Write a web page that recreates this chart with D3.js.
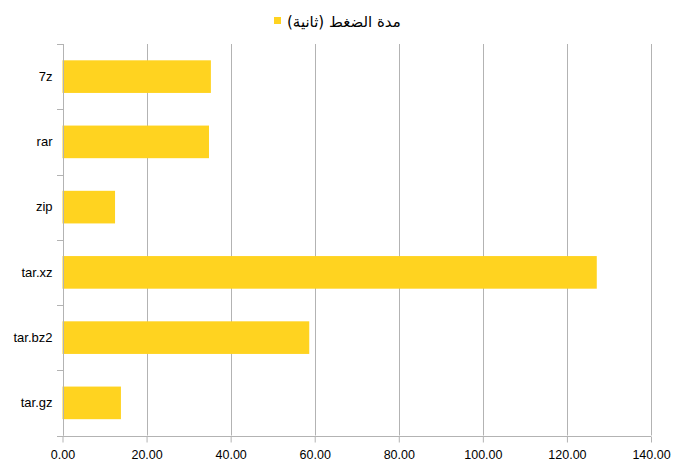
<!DOCTYPE html>
<html><head><meta charset="utf-8">
<script src="https://cdn.jsdelivr.net/npm/d3@7"></script>
<style>body{margin:0;background:#fff}svg{display:block}</style>
</head><body>
<svg id="c" width="685" height="469"></svg>
<script>
const categories = ["7z", "rar", "zip", "tar.xz", "tar.bz2", "tar.gz"];
const values = [35.3, 34.85, 12.5, 127.1, 58.7, 13.9];
const seriesName = "مدة الضغط (ثانية)";
const xTicks = [0, 20, 40, 60, 80, 100, 120, 140];

const svg = d3.select("#c");
const m = {left: 62.5, right: 651, top: 44, bottom: 435.5};
const x = d3.scaleLinear().domain([0, 140]).range([m.left, m.right]);
const y = d3.scaleBand().domain(categories).range([m.top, m.bottom]).paddingInner(0.5).paddingOuter(0.25);
const yb = d3.scaleBand().domain(categories).range([m.top, m.bottom]);
const grid = "#b3b3b3";

// gridlines
svg.append("g").selectAll("line").data(xTicks).join("line")
  .attr("x1", d => Math.round(x(d)) + 0.5).attr("x2", d => Math.round(x(d)) + 0.5)
  .attr("y1", m.top).attr("y2", m.bottom)
  .attr("stroke", grid).attr("stroke-width", 1);

// bars
svg.append("g").selectAll("rect").data(categories).join("rect")
  .attr("x", x(0)).attr("y", d => y(d))
  .attr("width", (d, i) => x(values[i]) - x(0))
  .attr("height", y.bandwidth())
  .attr("fill", "#ffd320");

// x axis
const xa = svg.append("g").attr("transform", `translate(0,${Math.round(m.bottom) + 0.5})`)
  .call(d3.axisBottom(x).tickValues(xTicks).tickFormat(d3.format(".2f")).tickSize(6).tickSizeOuter(0));
xa.select(".domain").attr("stroke", grid).attr("d", `M${m.left},0H${m.right}`);
xa.selectAll(".tick line").attr("stroke", grid);
xa.selectAll(".tick text").attr("font-family", "Liberation Sans, Arial, sans-serif")
  .attr("font-size", 12.5).attr("fill", "#000").attr("dy", "1.05em");

// y axis
const ya = svg.append("g").attr("transform", `translate(${Math.round(m.left) + 0.5},0)`)
  .call(d3.axisLeft(yb).tickSize(0).tickSizeOuter(0));
ya.select(".domain").attr("stroke", grid).attr("d", `M0,${m.top}V${m.bottom}`);
ya.selectAll(".tick text").attr("font-family", "Liberation Sans, Arial, sans-serif")
  .attr("font-size", 13).attr("fill", "#000").attr("x", -11);
// category boundary ticks
const bounds = categories.map(c => yb(c)).concat([m.bottom]);
svg.append("g").selectAll("line").data(bounds).join("line")
  .attr("x1", Math.round(m.left) - 6).attr("x2", Math.round(m.left) + 0.5)
  .attr("y1", d => Math.round(d) + 0.5).attr("y2", d => Math.round(d) + 0.5)
  .attr("stroke", grid);

// legend
const lg = svg.append("g");
lg.append("rect").attr("x", 274).attr("y", 17).attr("width", 7).attr("height", 7).attr("fill", "#ffd320");
lg.append("text").attr("x", 287).attr("y", 27).attr("direction", "rtl").attr("text-anchor", "end")
  .attr("font-family", "DejaVu Sans, sans-serif").attr("font-size", 15).attr("fill", "#000")
  .text(seriesName);
</script>
</body></html>
